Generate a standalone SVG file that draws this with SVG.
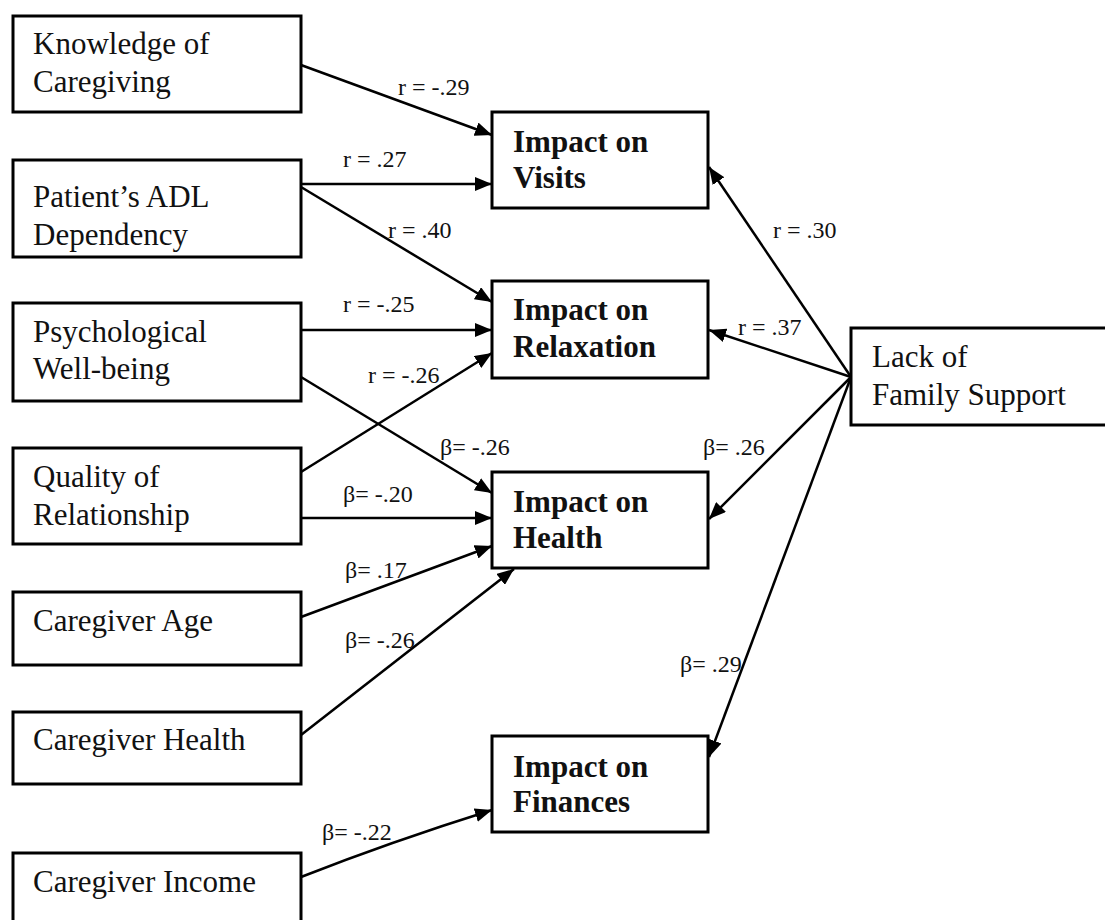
<svg xmlns="http://www.w3.org/2000/svg" width="1105" height="920" viewBox="0 0 1105 920">
<style>
.box{fill:#fff;stroke:#000;stroke-width:3}
.t{font-family:"Liberation Serif","Times New Roman",serif;font-size:31px;fill:#111}
.b{font-family:"Liberation Serif","Times New Roman",serif;font-size:31px;font-weight:bold;fill:#111}
.l{font-family:"Liberation Serif","Times New Roman",serif;font-size:24px;fill:#111}
.c{fill:none;stroke:#000;stroke-width:2.5;marker-end:url(#ah)}
</style>
<defs>
<marker id="ah" markerUnits="userSpaceOnUse" markerWidth="18" markerHeight="14" refX="17" refY="7" orient="auto">
<path d="M0,0 L17,7 L0,14 z" fill="#000"/>
</marker>
</defs>
<rect width="1105" height="920" fill="#fff"/>

<g id="connectors">
<path class="c" d="M301,65 L492,135"/>
<path class="c" d="M301,184 L492,184"/>
<path class="c" d="M301,187 L492,302"/>
<path class="c" d="M301,330 L492,330"/>
<path class="c" d="M301,472 L492,353"/>
<path class="c" d="M301,377 L492,493"/>
<path class="c" d="M301,518 L492,518"/>
<path class="c" d="M301,617 L492,546"/>
<path class="c" d="M301,735 L514,569"/>
<path class="c" d="M301,877 Q390,842 492,810"/>
<path class="c" d="M851,377 L709,167"/>
<path class="c" d="M851,377 L709,330"/>
<path class="c" d="M851,377 L709,519"/>
<path class="c" d="M851,377 L709,757"/>
</g>

<g id="labels">
<text class="l" x="398" y="95">r = -.29</text>
<text class="l" x="343" y="167">r = .27</text>
<text class="l" x="388" y="238">r = .40</text>
<text class="l" x="343" y="312">r = -.25</text>
<text class="l" x="368" y="383">r = -.26</text>
<text class="l" x="440" y="455">β= -.26</text>
<text class="l" x="343" y="502">β= -.20</text>
<text class="l" x="345" y="578">β= .17</text>
<text class="l" x="345" y="648">β= -.26</text>
<text class="l" x="322" y="840">β= -.22</text>
<text class="l" x="773" y="238">r = .30</text>
<text class="l" x="738" y="335">r = .37</text>
<text class="l" x="703" y="455">β= .26</text>
<text class="l" x="680" y="672">β= .29</text>
</g>

<g id="knowledge">
<rect class="box" x="13" y="16" width="288" height="96"/>
<text class="t" x="33" y="54">Knowledge of</text>
<text class="t" x="33" y="92">Caregiving</text>
</g>
<g id="adl">
<rect class="box" x="13" y="160" width="288" height="97"/>
<text class="t" x="33" y="207">Patient’s ADL</text>
<text class="t" x="33" y="245">Dependency</text>
</g>
<g id="psych">
<rect class="box" x="13" y="303" width="288" height="98"/>
<text class="t" x="33" y="342">Psychological</text>
<text class="t" x="33" y="379">Well-being</text>
</g>
<g id="quality">
<rect class="box" x="13" y="448" width="288" height="96"/>
<text class="t" x="33" y="487">Quality of</text>
<text class="t" x="33" y="525">Relationship</text>
</g>
<g id="age">
<rect class="box" x="13" y="592" width="288" height="73"/>
<text class="t" x="33" y="631">Caregiver Age</text>
</g>
<g id="cghealth">
<rect class="box" x="13" y="712" width="288" height="72"/>
<text class="t" x="33" y="750">Caregiver Health</text>
</g>
<g id="income">
<rect class="box" x="13" y="853" width="288" height="80"/>
<text class="t" x="33" y="892">Caregiver Income</text>
</g>

<g id="visits">
<rect class="box" x="492" y="112" width="216" height="96"/>
<text class="b" x="513" y="152">Impact on</text>
<text class="b" x="513" y="188">Visits</text>
</g>
<g id="relaxation">
<rect class="box" x="492" y="281" width="216" height="97"/>
<text class="b" x="513" y="320">Impact on</text>
<text class="b" x="513" y="357">Relaxation</text>
</g>
<g id="health">
<rect class="box" x="492" y="472" width="216" height="96"/>
<text class="b" x="513" y="512">Impact on</text>
<text class="b" x="513" y="548">Health</text>
</g>
<g id="finances">
<rect class="box" x="492" y="736" width="216" height="96"/>
<text class="b" x="513" y="777">Impact on</text>
<text class="b" x="513" y="812">Finances</text>
</g>

<g id="family">
<rect class="box" x="851" y="328" width="270" height="97"/>
<text class="t" x="872" y="367">Lack of</text>
<text class="t" x="872" y="405">Family Support</text>
</g>
</svg>
